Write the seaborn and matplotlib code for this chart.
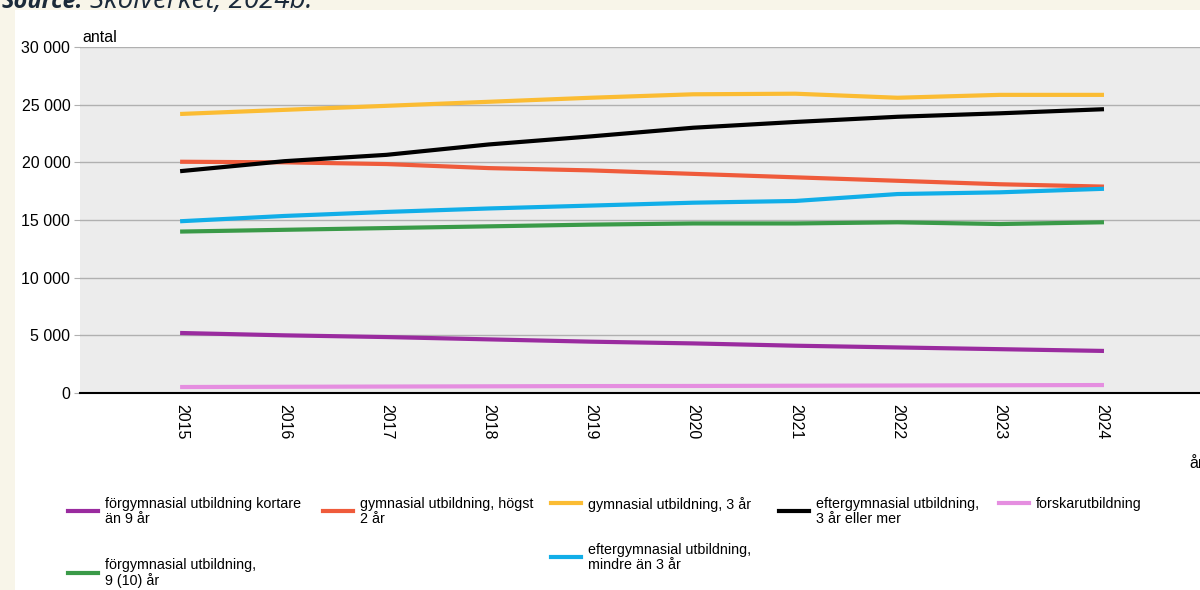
import pandas as pd
import numpy as np
import matplotlib.pyplot as plt
from matplotlib.lines import Line2D
from matplotlib.patches import Rectangle
import seaborn as sns

# data
years = [2015, 2016, 2017, 2018, 2019, 2020, 2021, 2022, 2023, 2024]
forgym_kort = [5200, 5000, 4850, 4650, 4450, 4300, 4100, 3950, 3800, 3650]
gym_hogst2 = [20050, 20000, 19850, 19500, 19300, 19000, 18700, 18400, 18100, 17900]
gym_3ar = [24200, 24550, 24900, 25250, 25600, 25900, 25950, 25600, 25850, 25850]
eftergym_3ar = [19250, 20100, 20650, 21550, 22250, 23000, 23500, 23950, 24250, 24600]
forskar = [520, 540, 560, 580, 600, 610, 630, 650, 670, 690]
forgym_9 = [14000, 14150, 14300, 14450, 14600, 14700, 14700, 14800, 14650, 14800]
eftergym_mindre = [14900, 15350, 15700, 16000, 16250, 16500, 16650, 17250, 17400, 17700]

labels = [
    "förgymnasial utbildning kortare\nän 9 år",
    "gymnasial utbildning, högst\n2 år",
    "gymnasial utbildning, 3 år",
    "eftergymnasial utbildning,\n3 år eller mer",
    "forskarutbildning",
    "förgymnasial utbildning,\n9 (10) år",
    "eftergymnasial utbildning,\nmindre än 3 år",
]
series = [forgym_kort, gym_hogst2, gym_3ar, eftergym_3ar, forskar, forgym_9, eftergym_mindre]
colors = ["#9a2b9f", "#ef5b3b", "#fbbc33", "#000000", "#e58ee0", "#3a9a48", "#11aee8"]

df = pd.DataFrame({
    "år": np.tile(years, len(labels)),
    "antal": np.concatenate(series),
    "grupp": np.repeat(labels, len(years)),
})

plt.rcParams["font.family"] = ["Liberation Sans", "DejaVu Sans"]

fig = plt.figure(figsize=(12, 5.9), dpi=100)
fig.patch.set_facecolor("#f8f5e9")
fig.add_artist(Rectangle((15 / 1200, 0), 1, 1 - 10 / 590, transform=fig.transFigure,
                         facecolor="white", edgecolor="none", zorder=0))

# source line, cut off at the top like in the original
fig.text(2 / 1200, 1 - 8 / 590, "Source:", fontsize=17, fontweight="bold", style="italic",
         color="#1b2a3a", va="baseline", family=["Open Sans", "DejaVu Sans"])
fig.text(90 / 1200, 1 - 8 / 590, "Skolverket, 2024b.", fontsize=20, style="italic",
         color="#1b2a3a", va="baseline", family=["Open Sans", "DejaVu Sans"])

ax = fig.add_axes([80 / 1200, (590 - 393) / 590, 1120 / 1200, 346 / 590])
ax.set_facecolor("#ececec")

sns.lineplot(data=df, x="år", y="antal", hue="grupp", palette=dict(zip(labels, colors)),
             linewidth=3.0, legend=False, ax=ax, zorder=3)

ax.set_xlim(2014, 2024.96)
ax.set_ylim(0, 30000)
ax.set_xticks(years)
ax.set_xticklabels([str(y) for y in years], rotation=-90, fontsize=11.5)
ax.set_yticks(range(0, 30001, 5000))
ax.set_yticklabels([f"{v:,}".replace(",", " ") for v in range(0, 30001, 5000)], fontsize=11.5)
ax.tick_params(axis="x", length=0, pad=8)
ax.tick_params(axis="y", length=4, color="#b0b0b0", pad=3)
ax.grid(axis="y", color="#b0b0b0", linewidth=1)
ax.set_axisbelow(True)
for s in ["left", "right", "top"]:
    ax.spines[s].set_visible(False)
ax.spines["bottom"].set_color("black")
ax.spines["bottom"].set_linewidth(1.5)
ax.set_xlabel("")
ax.set_ylabel("")

fig.text(82 / 1200, 1 - 37 / 590, "antal", fontsize=11.5, va="center")
fig.text(1189 / 1200, 1 - 464 / 590, "år", fontsize=11.5, va="center")

# legend slots: (handle x start px, handle y px, text top px)
slots = [(68, 511, 497), (323, 511, 497), (551, 503, 497), (779, 511, 497),
         (999, 503, 497), (68, 573, 558), (551, 557, 543)]
for lab, col, (hx, hy, ty) in zip(labels, colors, slots):
    fig.add_artist(Line2D([hx / 1200, (hx + 30) / 1200], [1 - hy / 590, 1 - hy / 590],
                          transform=fig.transFigure, color=col, linewidth=3.0))
    fig.text((hx + 37) / 1200, 1 - ty / 590, lab, fontsize=10.3, va="top", linespacing=1.05)

fig.savefig("out.png", dpi=100, facecolor=fig.get_facecolor())
